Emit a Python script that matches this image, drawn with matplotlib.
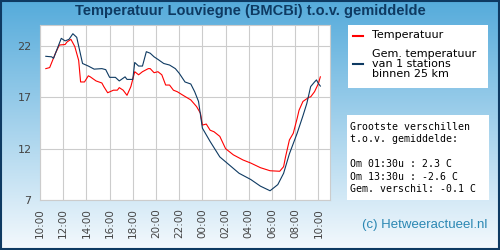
import matplotlib.pyplot as plt
import numpy as np

# minutes after 10:00 (day 1) and temperature readings
temp_min = [30, 50, 80, 100, 130, 140, 160, 180, 200, 210, 230, 250, 260, 290, 320,
            330, 350, 380, 400, 410, 430, 450, 470, 490, 510, 530, 560, 570, 590, 610,
            630, 650, 670, 690, 710, 740, 780, 810, 830, 840, 860, 880, 900, 930, 960,
            1000, 1050, 1090, 1140, 1190, 1240, 1260, 1270, 1290, 1310, 1330, 1340,
            1360, 1390, 1400, 1420, 1440, 1450]
temp_val = [19.8, 19.9, 21.3, 22.1, 22.15, 22.4, 22.65, 21.95, 20.6, 18.5, 18.5, 19.1,
            19.0, 18.6, 18.4, 18.05, 17.45, 17.7, 17.7, 17.95, 17.7, 17.2, 18.05, 19.5,
            19.2, 19.5, 19.8, 19.8, 19.4, 19.5, 19.2, 18.2, 18.2, 17.7, 17.55, 17.2,
            16.75, 16.1, 15.45, 14.3, 14.4, 13.8, 13.65, 13.2, 12.0, 11.4, 10.9, 10.6,
            10.15, 9.85, 9.8, 10.25, 11.2, 12.85, 13.5, 14.95, 15.75, 16.6, 17.0, 17.05,
            17.55, 18.35, 19.0]

avg_min = [30, 60, 70, 110, 130, 150, 170, 190, 220, 250, 280, 320, 340, 360, 390,
           410, 440, 450, 480, 490, 510, 530, 550, 570, 590, 610, 640, 670, 700, 720,
           750, 780, 800, 820, 840, 880, 930, 980, 1030, 1090, 1140, 1190, 1230, 1260,
           1290, 1330, 1360, 1380, 1400, 1420, 1430, 1440, 1450]
avg_val = [21.0, 20.95, 20.8, 22.75, 22.5, 22.65, 23.2, 22.85, 20.3, 20.05, 19.75,
           19.8, 19.7, 18.95, 18.95, 18.6, 19.0, 18.75, 18.75, 20.4, 20.05, 20.05, 21.45,
           21.3, 20.95, 20.7, 20.3, 20.15, 19.8, 19.35, 18.5, 18.3, 17.55, 16.6, 14.0,
           12.7, 11.2, 10.4, 9.6, 9.0, 8.35, 7.9, 8.5, 9.6, 11.5, 13.5, 15.2, 16.4,
           18.05, 18.5, 18.7, 18.35, 18.1]

tick_labels = ["10:00", "12:00", "14:00", "16:00", "18:00", "20:00", "22:00",
               "00:00", "02:00", "04:00", "06:00", "08:00", "10:00"]
y_ticks = [7, 12, 17, 22]

title = "Temperatuur Louviegne (BMCBi) t.o.v. gemiddelde"
stats_lines = ["Grootste verschillen", "t.o.v. gemiddelde:", "",
               "Om 01:30u : 2.3 C", "Om 13:30u : -2.6 C", "Gem. verschil: -0.1 C"]

navy = "#0e3a62"
red = "#ff0000"

fig = plt.figure(figsize=(5, 2.5), dpi=100)

# gradient background
bg = fig.add_axes([0, 0, 1, 1], zorder=0)
top = np.array([0x55, 0xab, 0xdb]) / 255
bot = np.array([0xf4, 0xf9, 0xfd]) / 255
t = np.linspace(0, 1, 256)[:, None]
grad = top * (1 - t) + bot * t
bg.imshow(grad[:, None, :], aspect="auto", extent=[0, 1, 0, 1])
bg.set_xlim(0, 1)
bg.set_ylim(0, 1)
bg.axis("off")
fig.patches.append(plt.Rectangle((0.002, 0.004), 0.996, 0.992, transform=fig.transFigure,
                                 fill=False, edgecolor=navy, linewidth=1.5, zorder=5))

fig.text(0.5, 0.955, title, ha="center", va="center", fontsize=10.5, fontweight="bold",
         color=navy, family="Liberation Sans")

ax = fig.add_axes([0.08, 0.2, 0.58, 0.7], zorder=1)
ax.set_facecolor("white")
ax.plot(np.array(temp_min) / 60, temp_val, color=red, linewidth=0.8)
ax.plot(np.array(avg_min) / 60, avg_val, color=navy, linewidth=0.8)
ax.set_xlim(0, 25)
ax.set_ylim(7, 24.05)
ax.set_xticks(np.arange(0, 25, 2))
ax.set_xticklabels(tick_labels, rotation=90, fontsize=7.5, color="#444444")
ax.set_yticks(y_ticks)
ax.set_yticklabels([str(v) for v in y_ticks], fontsize=8, color="#444444")
ax.tick_params(length=0, pad=6)
ax.grid(True, color="#cccccc", linewidth=0.8)
ax.set_axisbelow(True)
for s in ax.spines.values():
    s.set_color("#cccccc")
    s.set_linewidth(0.8)

# legend box
fig.patches.append(plt.Rectangle((348 / 500, 1 - 88 / 250), 140 / 500, 63 / 250,
                                 transform=fig.transFigure, facecolor="white",
                                 edgecolor="none", zorder=2))
fig.lines.append(plt.Line2D([353 / 500, 363 / 500], [1 - 36 / 250] * 2, color=red,
                            linewidth=1.5, transform=fig.transFigure, zorder=3))
fig.lines.append(plt.Line2D([353 / 500, 363 / 500], [1 - 64 / 250] * 2, color=navy,
                            linewidth=1.5, transform=fig.transFigure, zorder=3))
fig.text(372 / 500, 1 - 35 / 250, "Temperatuur", fontsize=8, va="center", zorder=4)
fig.text(372 / 500, 1 - 64 / 250, "Gem. temperatuur\nvan 1 stations\nbinnen 25 km",
         fontsize=8, va="center", linespacing=0.95, zorder=4)

# stats box
fig.patches.append(plt.Rectangle((347 / 500, 1 - 200 / 250), 142 / 500, 85 / 250,
                                 transform=fig.transFigure, facecolor="white",
                                 edgecolor="none", zorder=2))
for i, line in enumerate(stats_lines):
    fig.text(350 / 500, 1 - (127 + i * 12.4) / 250, line, fontsize=7.1,
             family="DejaVu Sans Mono", va="center", zorder=4)

fig.text(487 / 500, 1 - 225 / 250, "(c) Hetweeractueel.nl", ha="right", va="center",
         fontsize=9.5, color="#2b87b3", family="Liberation Sans")

fig.savefig("out.png", dpi=100)
